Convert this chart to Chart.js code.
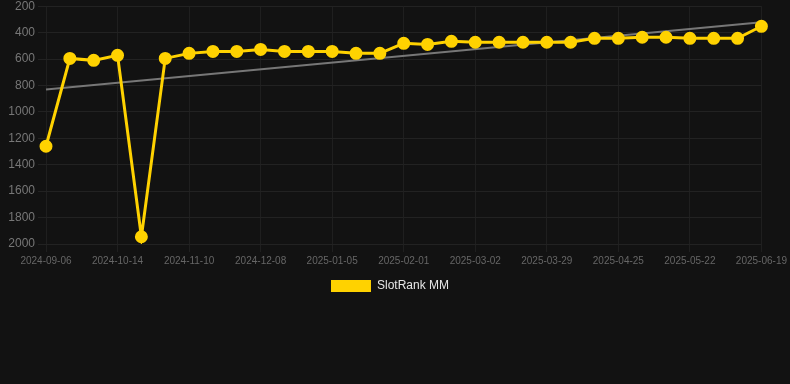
<!DOCTYPE html>
<html>
<head>
<meta charset="utf-8">
<script src="https://cdn.jsdelivr.net/npm/chart.js@4/dist/chart.umd.min.js"></script>
<style>
  html, body { margin: 0; padding: 0; background: #121212; overflow: hidden; }
  #wrap { width: 790px; height: 306px; position: relative; top: -4px; }
</style>
</head>
<body>
<div id="wrap"><canvas id="rankChart"></canvas></div>
<script>
const dates = [
  "2024-09-06", "2024-09-19", "2024-10-01", "2024-10-14", "2024-10-23",
  "2024-11-01", "2024-11-10", "2024-11-19", "2024-11-28", "2024-12-08",
  "2024-12-17", "2024-12-26", "2025-01-05", "2025-01-14", "2025-01-23",
  "2025-02-01", "2025-02-11", "2025-02-20", "2025-03-02", "2025-03-11",
  "2025-03-20", "2025-03-29", "2025-04-07", "2025-04-16", "2025-04-25",
  "2025-05-04", "2025-05-13", "2025-05-22", "2025-05-31", "2025-06-09",
  "2025-06-19",
];

const rankValues = [
  1260, 595, 610, 572, 1945, 595, 557, 542, 542, 527,
  542, 542, 542, 557, 557, 481, 489, 466, 473, 473,
  473, 473, 473, 443, 443, 435, 435, 443, 443, 443,
  352,
];

// trend line: start and end only
const trendStart = 830;
const trendEnd = 322;
const trendValues = dates.map((d, i) =>
  i === 0 ? trendStart : i === dates.length - 1 ? trendEnd : null
);

const yTicks = [200, 400, 600, 800, 1000, 1200, 1400, 1600, 1800, 2000];

const gold = "#FFD200";

const ctx = document.getElementById("rankChart").getContext("2d");
new Chart(ctx, {
  type: "line",
  data: {
    labels: dates,
    datasets: [
      {
        label: "SlotRank MM",
        data: rankValues,
        borderColor: gold,
        backgroundColor: gold,
        borderWidth: 3,
        pointRadius: 5,
        pointHoverRadius: 5,
        tension: 0,
      },
      {
        label: "trend",
        data: trendValues,
        borderColor: "#777777",
        borderWidth: 2,
        pointRadius: 0,
        spanGaps: true,
      },
    ],
  },
  options: {
    responsive: true,
    maintainAspectRatio: false,
    animation: false,
    layout: { padding: { left: 0, right: 10, top: 0, bottom: 0 } },
    plugins: {
      legend: {
        position: "bottom",
        labels: {
          color: "#e6e6e6",
          font: { size: 12, family: "Liberation Sans, Arial, sans-serif" },
          boxWidth: 40,
          boxHeight: 12,
          generateLabels: (chart) =>
            Chart.defaults.plugins.legend.labels
              .generateLabels(chart)
              .filter((item) => item.text !== "trend")
              .map((item) => ({ ...item, lineWidth: 0 })),
        },
      },
      tooltip: { enabled: false },
    },
    scales: {
      x: {
        grid: { color: "#1f1f1f", drawTicks: true },
        border: { display: false },
        ticks: {
          color: "#666666",
          font: { size: 10, family: "Liberation Sans, Arial, sans-serif" },
          autoSkip: false,
          maxRotation: 0,
          callback: function (val, idx) {
            return idx % 3 === 0 ? this.getLabelForValue(val) : null;
          },
        },
      },
      y: {
        reverse: true,
        min: 200,
        max: 2000,
        afterBuildTicks: (axis) => {
          axis.ticks = yTicks.map((v) => ({ value: v }));
        },
        afterFit: (axis) => {
          axis.width = 46;
        },
        grid: { color: "#222222" },
        border: { display: false },
        ticks: {
          color: "#777777",
          font: { size: 12, family: "Liberation Sans, Arial, sans-serif" },
          callback: (v) => String(v),
        },
      },
    },
  },
});
</script>
</body>
</html>
